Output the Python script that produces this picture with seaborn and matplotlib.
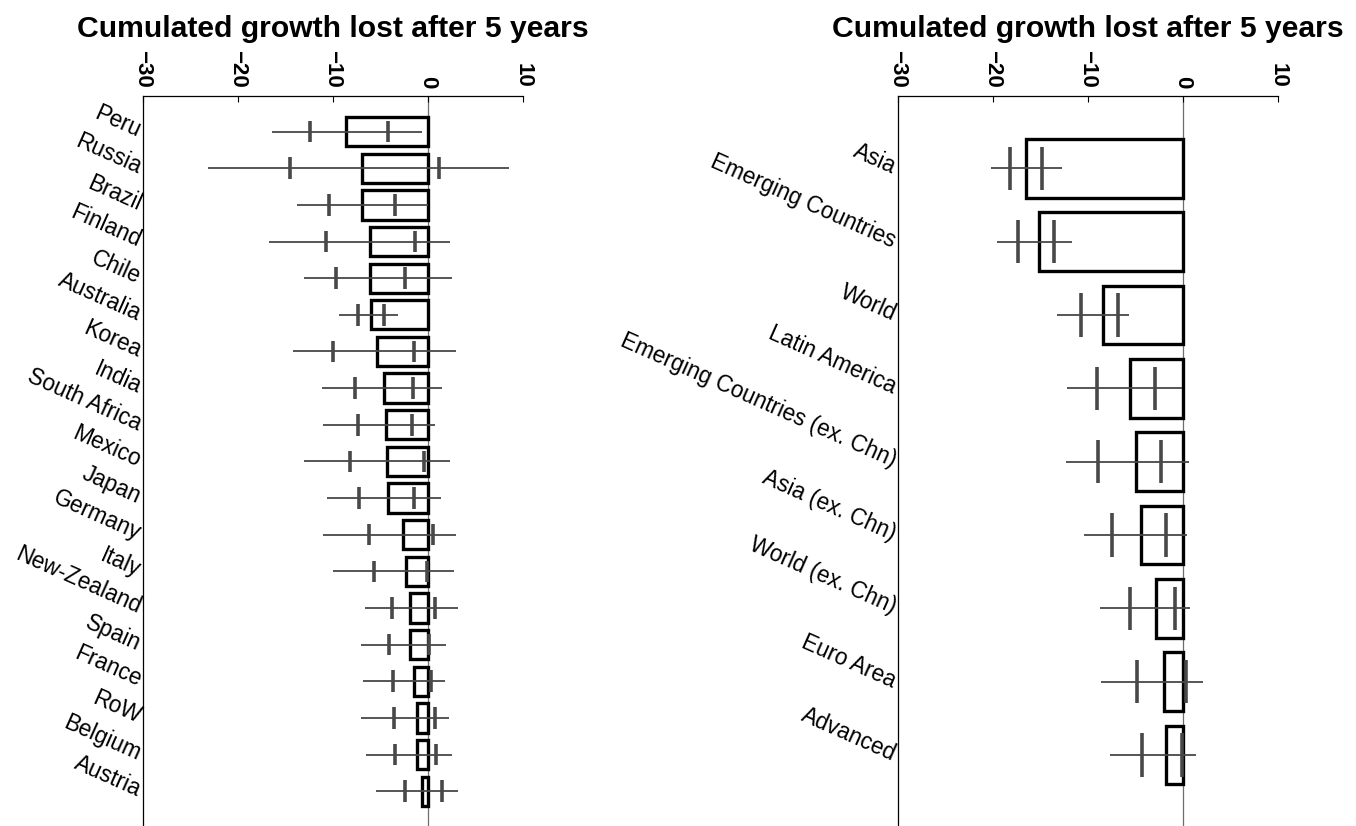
import numpy as np
import pandas as pd
import matplotlib
matplotlib.use("Agg")
import matplotlib.pyplot as plt
import seaborn as sns

# countries (left panel)
countries = ["Peru", "Russia", "Brazil", "Finland", "Chile", "Australia", "Korea",
             "India", "South Africa", "Mexico", "Japan", "Germany", "Italy",
             "New-Zealand", "Spain", "France", "RoW", "Belgium", "Austria"]
c_loss = [-8.6, -6.9, -6.9, -6.05, -6.05, -6.0, -5.35, -4.6, -4.4, -4.25, -4.15,
          -2.55, -2.3, -1.9, -1.85, -1.4, -1.15, -1.1, -0.55]
c_low = [-16.4, -23.1, -13.8, -16.7, -13.0, -9.3, -14.2, -11.1, -11.0, -13.0, -10.6,
         -11.0, -10.0, -6.6, -7.05, -6.85, -7.05, -6.5, -5.4]
c_high = [-0.6, 8.6, 0.0, 2.3, 2.6, -3.1, 3.0, 1.5, 0.8, 2.4, 1.4,
          2.95, 2.8, 3.2, 1.95, 1.8, 2.2, 2.6, 3.2]
c_tick1 = [-12.4, -14.5, -10.4, -10.75, -9.6, -7.35, -9.95, -7.6, -7.3, -8.2, -7.25,
           -6.2, -5.6, -3.75, -4.05, -3.65, -3.5, -3.45, -2.4]
c_tick2 = [-4.2, 1.2, -3.4, -1.3, -2.35, -4.6, -1.45, -1.55, -1.6, -0.4, -1.45,
           0.55, -0.05, 0.75, 0.1, 0.3, 0.8, 0.9, 1.5]

# regions (right panel)
regions = ["Asia", "Emerging Countries", "World", "Latin America",
           "Emerging Countries (ex. Chn)", "Asia (ex. Chn)", "World (ex. Chn)",
           "Euro Area", "Advanced"]
r_loss = [-16.5, -15.1, -8.35, -5.6, -4.9, -4.4, -2.85, -2.0, -1.8]
r_low = [-20.2, -19.6, -13.2, -12.2, -12.3, -10.35, -8.7, -8.55, -7.7]
r_high = [-12.7, -11.65, -5.7, -0.1, 0.65, 0.45, 0.8, 2.1, 1.4]
r_tick1 = [-18.2, -17.3, -10.7, -9.05, -8.9, -7.4, -5.6, -4.8, -4.25]
r_tick2 = [-14.8, -13.5, -6.8, -2.9, -2.25, -1.8, -0.85, 0.35, -0.05]

title = "Cumulated growth lost after 5 years"
xticks = [-30, -20, -10, 0, 10]

sns.set_theme(style="white")
plt.rcParams["font.family"] = ["Liberation Sans", "DejaVu Sans"]
plt.rcParams["text.color"] = "black"
plt.rcParams["xtick.color"] = "black"
plt.rcParams["ytick.color"] = "black"

fig = plt.figure(figsize=(13.56, 8.26), dpi=100)
ax_l = fig.add_axes([142.7 / 1356, 0.0, 380 / 1356, 730.3 / 826])
ax_r = fig.add_axes([897.7 / 1356, 0.0, 380 / 1356, 730.3 / 826])

err_col = "#484848"


def panel(ax, names, loss, low, high, t1, t2, ylim):
    df = pd.DataFrame({"name": names, "loss": loss})
    ax.axvline(0, color="#6e6e6e", lw=0.9, zorder=0)
    sns.barplot(data=df, x="loss", y="name", orient="h", color="white",
                edgecolor="black", linewidth=2.4, width=0.8, ax=ax, zorder=2)
    pos = np.arange(len(names))
    ax.hlines(pos, low, high, color=err_col, lw=1.3, zorder=3)
    ax.vlines(t1, pos - 0.295, pos + 0.295, color=err_col, lw=2.6, zorder=3)
    ax.vlines(t2, pos - 0.295, pos + 0.295, color=err_col, lw=2.6, zorder=3)

    ax.set_xlim(-30, 10)
    ax.set_ylim(*ylim)
    ax.set_xticks(xticks)
    ax.set_xticklabels([str(v).replace("-", "\u2212") for v in xticks],
                       fontweight="bold", fontsize=16)
    ax.xaxis.tick_top()
    ax.tick_params(axis="x", direction="in", length=4.3, width=0.8, color="black",
                   top=True, bottom=False, labeltop=True, labelbottom=False,
                   labelrotation=270, pad=5.5)
    ax.tick_params(axis="y", left=False, length=0, pad=2)
    ax.set_yticks(pos)
    ax.set_yticklabels(names, fontsize=16.3)
    for lbl in ax.get_yticklabels():
        lbl.set_rotation(-24)
        lbl.set_ha("right")
        lbl.set_va("center")
        lbl.set_rotation_mode("anchor")
    ax.set_xlabel("")
    ax.set_ylabel("")
    for side in ["right", "bottom"]:
        ax.spines[side].set_visible(False)
    for side in ["top", "left"]:
        ax.spines[side].set_color("black")
        ax.spines[side].set_linewidth(0.9)
    ax.set_title(title, fontsize=21.7, fontweight="bold", pad=9.5, color="black")


panel(ax_l, countries, c_loss, c_low, c_high, c_tick1, c_tick2, (18.95, -0.98))
panel(ax_r, regions, r_loss, r_low, r_high, r_tick1, r_tick2, (8.97, -0.99))

fig.savefig("out.png", dpi=100)
